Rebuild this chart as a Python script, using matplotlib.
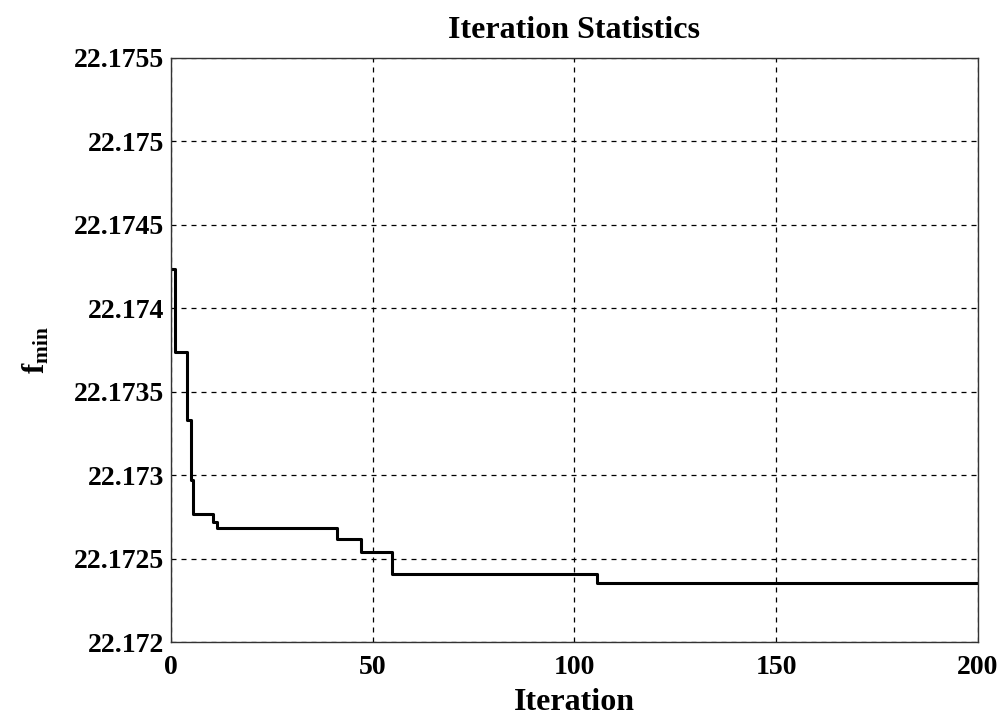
import matplotlib
matplotlib.use("Agg")
import matplotlib.pyplot as plt

# Change points of the step curve (iteration, f_min)
iterations = [0, 1, 4, 5, 5.5, 10.5, 11.3, 41.2, 47.2, 54.9, 105.6, 200]
fmin = [22.174233, 22.173739, 22.173330, 22.172970, 22.172765, 22.172720,
        22.172685, 22.172615, 22.172539, 22.172407, 22.172352, 22.172352]

xticks = [0, 50, 100, 150, 200]
yticks = [22.172, 22.1725, 22.173, 22.1735, 22.174, 22.1745, 22.175, 22.1755]
ytick_labels = ["22.172", "22.1725", "22.173", "22.1735", "22.174", "22.1745", "22.175", "22.1755"]

plt.rcParams['font.family'] = ['Liberation Serif', 'DejaVu Serif']
plt.rcParams['mathtext.fontset'] = 'custom'
plt.rcParams['mathtext.rm'] = 'Liberation Serif'
plt.rcParams['mathtext.it'] = 'Liberation Serif:bold'
plt.rcParams['mathtext.bf'] = 'Liberation Serif:bold'

fig = plt.figure(figsize=(10.01, 7.18), dpi=100)
ax = fig.add_axes([0.1708, 0.1058, 0.806, 0.8135])

ax.plot(iterations, fmin, drawstyle='steps-post', color='black', lw=2.2)

ax.set_xlim(0, 200)
ax.set_ylim(22.172, 22.1755)
ax.set_xticks(xticks)
ax.set_xticklabels([str(t) for t in xticks], fontsize=20, fontweight='bold')
ax.set_yticks(yticks)
ax.set_yticklabels(ytick_labels, fontsize=20, fontweight='bold')
ax.tick_params(axis='x', length=0, pad=9)
ax.tick_params(axis='y', length=0, pad=5)
ax.grid(True, color='black', linestyle=(0, (4, 4)), lw=0.9)
for s in ax.spines.values():
    s.set_linewidth(1.0)
    s.set_color('#333333')

ax.set_title("Iteration Statistics", fontsize=23, fontweight='bold', pad=14)
ax.set_xlabel("Iteration", fontsize=23, fontweight='bold', labelpad=6)
ax.set_ylabel(r"$\mathbf{f}_{\mathbf{min}}$", fontsize=22, labelpad=16)

fig.savefig("out.png", dpi=100)
